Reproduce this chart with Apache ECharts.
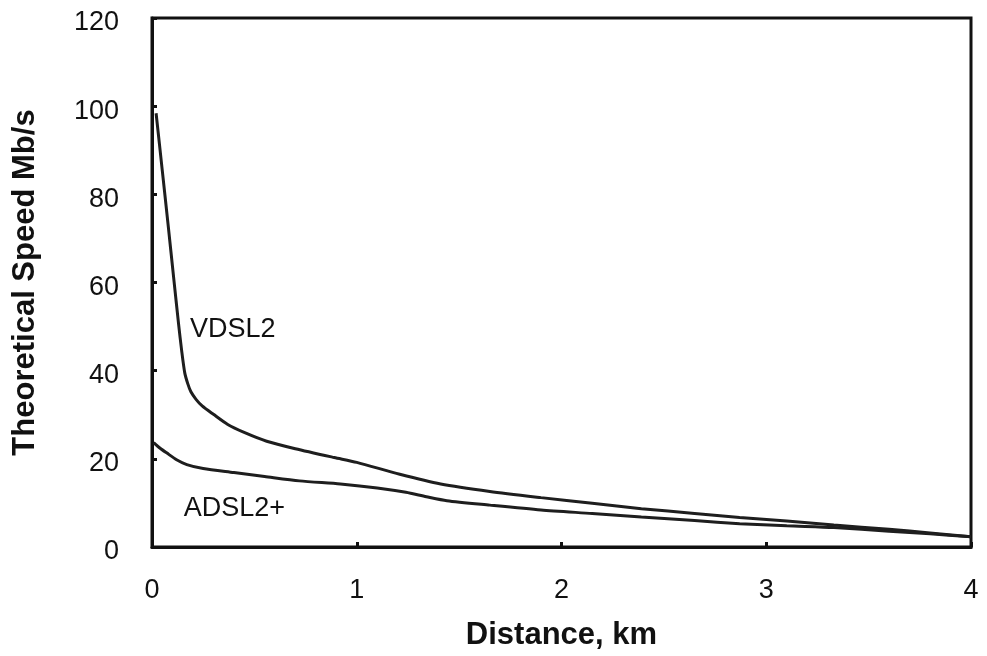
<!DOCTYPE html>
<html>
<head>
<meta charset="utf-8">
<script src="https://cdn.jsdelivr.net/npm/echarts@6/dist/echarts.min.js"></script>
<style>
html,body{margin:0;padding:0;background:#fff;}
#chart{width:987px;height:656px;}
</style>
</head>
<body>
<div id="chart"></div>
<script>
// Distance (km) and theoretical speed (Mb/s)
const vdsl2X = [0.02, 0.05, 0.08, 0.106, 0.13, 0.145, 0.16, 0.175, 0.19, 0.215, 0.245, 0.3, 0.37, 0.45, 0.56, 0.7, 0.89, 1.0, 1.21, 1.41, 1.65, 1.9, 2.15, 2.39, 2.65, 2.87, 3.1, 3.33, 3.6, 3.8, 4.0];
const vdsl2Y = [98.4, 85.5, 72.5, 61, 50.5, 44.5, 39.5, 37, 35.2, 33.5, 32, 30.1, 27.8, 26.0, 24.0, 22.3, 20.3, 19.2, 16.5, 14.3, 12.6, 11.2, 9.9, 8.7, 7.6, 6.7, 5.9, 5.0, 4.0, 3.2, 2.3];
const adslX = [0.008, 0.04, 0.073, 0.12, 0.17, 0.25, 0.4, 0.55, 0.72, 0.92, 1.1, 1.24, 1.34, 1.44, 1.65, 1.9, 2.15, 2.39, 2.65, 2.87, 3.1, 3.33, 3.6, 3.8, 4.0];
const adslY = [23.7, 22.4, 21.3, 19.8, 18.7, 17.8, 16.9, 16.0, 15.0, 14.3, 13.4, 12.4, 11.4, 10.5, 9.5, 8.4, 7.6, 6.8, 6.0, 5.3, 4.8, 4.4, 3.6, 3.0, 2.3];
const xTicks = [0, 1, 2, 3, 4];
const yTicks = [0, 20, 40, 60, 80, 100, 120];
const seriesNames = ['VDSL2', 'ADSL2+'];
const labelAnchors = [[0.185, 52.3], [0.155, 11.7]];

const zip = (xs, ys) => xs.map((x, i) => [x, ys[i]]);
const font = 'Liberation Sans, Arial, sans-serif';
const lineColor = '#1e1e1e';

const chart = echarts.init(document.getElementById('chart'), null, {renderer: 'canvas'});
chart.setOption({
  backgroundColor: '#fff',
  animation: false,
  grid: {left: 152, right: 16, top: 18, bottom: 106, show: true, borderColor: '#111', borderWidth: 3, backgroundColor: 'transparent'},
  xAxis: {
    type: 'value', min: xTicks[0], max: xTicks[xTicks.length - 1], interval: 1,
    name: 'Distance, km', nameLocation: 'middle', nameGap: 73,
    nameTextStyle: {fontFamily: font, fontSize: 31, fontWeight: 'bold', color: '#111'},
    axisLine: {lineStyle: {color: '#111', width: 3}},
    axisTick: {inside: true, length: 5, lineStyle: {color: '#111', width: 3}},
    axisLabel: {margin: 30, fontFamily: font, fontSize: 27, color: '#111'},
    splitLine: {show: false}
  },
  yAxis: {
    type: 'value', min: yTicks[0], max: yTicks[yTicks.length - 1], interval: 20,
    name: 'Theoretical Speed Mb/s', nameLocation: 'middle', nameGap: 111,
    nameTextStyle: {fontFamily: font, fontSize: 31, fontWeight: 'bold', color: '#111'},
    axisLine: {lineStyle: {color: '#111', width: 3}},
    axisTick: {inside: true, length: 5, lineStyle: {color: '#111', width: 3}},
    axisLabel: {margin: 33, fontFamily: font, fontSize: 27, color: '#111', verticalAlign: 'top', lineHeight: 10},
    splitLine: {show: false}
  },
  series: [
    {
      name: seriesNames[0], type: 'line', data: zip(vdsl2X, vdsl2Y), smooth: 0.25,
      showSymbol: false, lineStyle: {color: lineColor, width: 3}
    },
    {
      name: seriesNames[1], type: 'line', data: zip(adslX, adslY), smooth: 0.25,
      showSymbol: false, lineStyle: {color: lineColor, width: 3}
    }
  ]
});

// Place in-plot series labels using the chart's own scales
const labelGraphics = seriesNames.map((name, i) => {
  const p = chart.convertToPixel({gridIndex: 0}, labelAnchors[i]);
  return {type: 'text', x: p[0], y: p[1], style: {text: name, font: '27px ' + font, fill: '#111'}};
});
chart.setOption({graphic: labelGraphics});
</script>
</body>
</html>
